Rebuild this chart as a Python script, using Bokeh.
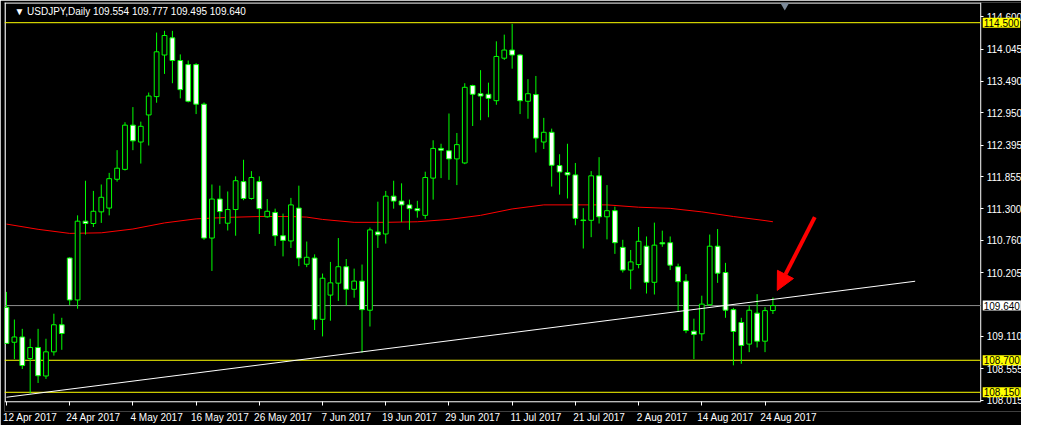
from bokeh.plotting import figure
from bokeh.models import (ColumnDataSource, Label, Arrow, NormalHead,
                          LinearAxis, FixedTicker, Range1d)
from bokeh.embed import file_html
from bokeh.resources import INLINE

# ---------------- data ----------------
bar_index = list(range(98))
opens = [109.61, 109.01, 109.10, 108.73, 108.92, 108.43, 108.845, 109.31, 110.457, 109.736,
         111.09, 111.05, 111.25, 111.315, 111.81, 111.98, 112.74, 112.45, 112.915, 113.23,
         113.945, 114.24, 113.85, 113.78, 113.78, 113.10, 110.80, 111.47, 111.055, 111.29,
         111.77, 111.48, 111.77, 111.165, 111.24, 110.84, 110.75, 111.315, 110.35, 110.457,
         109.404, 109.82, 110.025, 110.307, 109.92, 110.06, 109.56, 110.905, 110.87, 111.52,
         111.435, 111.37, 111.305, 111.19, 111.83, 112.34, 112.30, 112.16, 112.09, 113.42,
         113.28, 113.27, 113.16, 113.89, 114.03, 113.945, 113.15, 113.265, 112.45, 112.617,
         112.045, 111.925, 111.885, 111.11, 111.105, 111.869, 111.165, 111.27, 110.64, 110.25,
         110.345, 110.66, 110.04, 110.72, 110.72, 110.307, 110.06, 109.20, 109.155, 109.653,
         110.66, 110.208, 109.57, 109.349, 108.978, 109.51, 109.028, 109.554]
highs = [109.875, 109.40, 109.24, 109.07, 109.24, 109.07, 109.50, 109.43, 110.47, 111.19,
         111.785, 111.61, 111.72, 111.92, 112.31, 112.79, 113.05, 112.80, 113.30, 114.33,
         114.36, 114.36, 113.955, 113.85, 113.805, 113.13, 111.72, 111.70, 111.60, 111.86,
         112.145, 111.95, 111.86, 111.47, 111.305, 111.22, 111.49, 111.70, 110.74, 110.52,
         110.19, 110.39, 110.80, 110.44, 110.275, 110.345, 110.98, 111.425, 111.61, 111.785,
         111.74, 111.46, 111.44, 111.94, 112.48, 112.42, 112.94, 112.605, 113.46, 113.435,
         113.685, 113.47, 114.18, 114.295, 114.48, 113.96, 113.53, 113.585, 112.865, 112.68,
         112.24, 112.42, 112.09, 111.314, 111.95, 112.19, 111.71, 111.34, 110.77, 110.595,
         110.99, 110.827, 111.065, 110.927, 110.827, 110.36, 110.18, 109.415, 109.81, 110.86,
         110.955, 110.374, 109.60, 109.43, 109.643, 109.836, 109.614, 109.777]
lows = [108.99, 108.72, 108.55, 108.13, 108.31, 108.38, 108.78, 108.88, 109.65, 109.586,
        110.86, 110.99, 111.06, 111.19, 111.77, 111.96, 112.31, 112.08, 112.39, 113.125,
        113.62, 113.46, 113.20, 113.13, 112.93, 110.77, 110.235, 111.04, 110.93, 110.84,
        111.45, 111.46, 110.87, 111.15, 110.665, 110.485, 110.63, 110.317, 110.30, 109.22,
        109.11, 109.38, 109.72, 109.64, 109.775, 108.83, 109.28, 110.63, 110.705, 111.305,
        111.077, 110.94, 111.15, 111.13, 111.46, 111.83, 111.80, 111.71, 112.07, 112.725,
        112.825, 112.875, 113.09, 113.86, 113.71, 112.93, 112.85, 112.27, 112.33, 111.685,
        111.546, 111.48, 111.02, 110.62, 110.815, 111.05, 110.777, 110.528, 110.208, 109.92,
        110.28, 109.847, 109.83, 110.65, 110.25, 109.543, 109.166, 108.72, 109.033, 109.64,
        110.03, 109.43, 108.613, 108.64, 108.84, 108.92, 108.84, 109.495]
closes = [108.99, 109.10, 108.61, 108.92, 108.435, 108.845, 109.31, 109.16, 109.736, 111.09,
          111.05, 111.26, 111.50, 111.82, 112.00, 112.74, 112.47, 112.72, 113.24, 114.00,
          114.28, 113.85, 113.35, 113.15, 113.10, 110.80, 111.47, 111.255, 111.29, 111.785,
          111.48, 111.84, 111.305, 111.26, 110.84, 110.76, 111.37, 110.457, 110.47, 109.404,
          110.11, 110.03, 110.307, 109.92, 110.06, 109.57, 110.94, 110.855, 111.52, 111.435,
          111.37, 111.305, 111.27, 111.84, 112.34, 112.31, 112.16, 112.405, 113.39, 113.27,
          113.24, 113.20, 113.92, 114.03, 113.945, 113.16, 113.28, 112.517, 112.617, 112.05,
          111.935, 111.885, 111.138, 111.10, 111.869, 111.165, 111.27, 110.72, 110.25, 110.39,
          110.744, 110.04, 110.678, 110.70, 110.334, 110.05, 109.211, 109.145, 109.665, 110.66,
          110.196, 109.56, 109.195, 108.955, 109.56, 109.028, 109.553, 109.640]

date_tick_bars = [0, 8, 16, 24, 32, 40, 48, 56, 64, 72, 80, 88, 96]
date_tick_labels = ["12 Apr 2017", "24 Apr 2017", "4 May 2017", "16 May 2017", "26 May 2017",
                    "7 Jun 2017", "19 Jun 2017", "29 Jun 2017", "11 Jul 2017", "21 Jul 2017",
                    "2 Aug 2017", "14 Aug 2017", "24 Aug 2017"]

price_ticks = [114.600, 114.045, 113.490, 112.950, 112.395, 111.855, 111.300,
               110.760, 110.205, 109.110, 108.555, 108.015]
price_tick_labels = ["114.600", "114.045", "113.490", "112.950", "112.395", "111.855", "111.300",
                     "110.760", "110.205", "109.110", "108.555", "108.015"]

ma_bars = [0, 4, 8, 12, 16, 20, 24, 28, 32, 36, 38, 40, 44, 48, 52, 56, 60, 64, 68,
           72, 76, 80, 84, 88, 92, 96, 97]
ma_values = [111.04, 110.95, 110.88, 110.89, 110.955, 111.06, 111.13, 111.155, 111.17, 111.17,
             111.16, 111.12, 111.07, 111.07, 111.08, 111.12, 111.19, 111.30, 111.37,
             111.37, 111.37, 111.33, 111.31, 111.25, 111.17, 111.10, 111.08]

trend_bars = [0, 115]
trend_prices = [108.065, 110.058]

level_prices = [114.500, 108.700, 108.150]
level_labels = ["114.500", "108.700", "108.150"]
bid_price = 109.640
bid_label = "109.640"

arrow_bars = [102.3, 97.55]
arrow_prices = [111.16, 109.90]

shift_marker_bar = [98.5]
shift_marker_price = [114.80]

title_text = "\u25BC USDJPY,Daily 109.554 109.777 109.495 109.640"

# ---------------- figure ----------------
X0 = -0.25          # left edge of the chart frame
X_AXIS = 123.3      # where the price scale sits (right edge of the chart area)
X_END = 128.46      # room for the price labels
Y_LINE_LO, Y_LINE_HI = 107.987, 114.847   # white chart border (bottom/top)
Y_FRAME_LO = 107.82                       # room under the border for ticks / last label
FONT = "Liberation Sans"
GREEN = "#00FF00"

p = figure(width=1021, height=425, x_range=Range1d(X0, X_END),
           y_range=Range1d(Y_FRAME_LO, Y_LINE_HI),
           output_backend="svg", toolbar_location=None, y_axis_location="right",
           background_fill_color="black", border_fill_color="black",
           min_border_left=4, min_border_top=2, min_border_right=0, min_border_bottom=0)
p.grid.visible = False
p.outline_line_color = None

# bottom axis: tick marks only, pinned to the chart's bottom border
xa = p.xaxis[0]
xa.fixed_location = Y_LINE_LO
xa.ticker = FixedTicker(ticks=date_tick_bars)
xa.major_label_overrides = {b: "" for b in date_tick_bars}
xa.major_label_text_font_size = "0px"
xa.major_label_standoff = 0
xa.major_tick_out = 4
xa.major_tick_in = 0
xa.major_tick_line_color = "white"
xa.minor_tick_line_color = None
xa.axis_line_color = None

# bottom axis: date labels starting at the tick
lab_ticks = [b + 3 for b in date_tick_bars]
xa2 = LinearAxis(ticker=FixedTicker(ticks=lab_ticks),
                 major_label_overrides={t: l for t, l in zip(lab_ticks, date_tick_labels)})
xa2.major_tick_out = 0
xa2.major_tick_in = 0
xa2.major_tick_line_color = None
xa2.minor_tick_line_color = None
xa2.axis_line_color = None
xa2.major_label_standoff = 0
xa2.major_label_text_color = "white"
xa2.major_label_text_font = FONT
xa2.major_label_text_font_size = "10px"
p.add_layout(xa2, "below")

# right price axis, pinned at the right edge of the chart area
ya = p.yaxis[0]
ya.fixed_location = X_AXIS
ya.ticker = FixedTicker(ticks=price_ticks)
ya.major_label_overrides = {t: l for t, l in zip(price_ticks, price_tick_labels)}
ya.major_tick_out = 3
ya.major_tick_in = 0
ya.major_tick_line_color = "white"
ya.minor_tick_line_color = None
ya.axis_line_color = None
ya.major_label_standoff = 3
ya.major_label_text_color = "white"
ya.major_label_text_font = FONT
ya.major_label_text_font_size = "10px"

# chart border (left, right, top, bottom white lines)
p.segment(x0=[X0 + 0.1, X_AXIS, X0, X0],
          y0=[Y_LINE_LO, Y_LINE_LO, Y_LINE_HI - 0.01, Y_LINE_LO],
          x1=[X0 + 0.1, X_AXIS, X_AXIS, X_AXIS],
          y1=[Y_LINE_HI, Y_LINE_HI, Y_LINE_HI - 0.01, Y_LINE_LO],
          line_color="white", line_width=1)

# moving average
p.line(ma_bars, ma_values, line_color="#FF0000", line_width=1)

# horizontal levels
p.segment(x0=[X0] * len(level_prices), y0=level_prices,
          x1=[X_AXIS] * len(level_prices), y1=level_prices,
          line_color="#FFFF00", line_width=1)
p.segment(x0=[X0], y0=[bid_price], x1=[X_AXIS], y1=[bid_price],
          line_color="#8C8C8C", line_width=1)

# candles
tops = [max(o, c) for o, c in zip(opens, closes)]
bots = [min(o, c) for o, c in zip(opens, closes)]
fills = ["black" if c > o else "white" for o, c in zip(opens, closes)]
src = ColumnDataSource(dict(x=bar_index, high=highs, low=lows, top=tops, bottom=bots, fill=fills))
p.segment(x0="x", y0="low", x1="x", y1="high", source=src, line_color=GREEN, line_width=1)
p.vbar(x="x", width=0.6, top="top", bottom="bottom", source=src,
       fill_color="fill", line_color=GREEN, line_width=1)

# trend line
p.line(trend_bars, trend_prices, line_color="white", line_width=1)

# chart shift marker
p.scatter(shift_marker_bar, shift_marker_price, marker="inverted_triangle", size=9,
          fill_color="#7C8A99", line_color=None)

# red arrow
p.add_layout(Arrow(end=NormalHead(size=18, fill_color="#FF0000", line_color="#FF0000"),
                   x_start=arrow_bars[0], y_start=arrow_prices[0],
                   x_end=arrow_bars[1], y_end=arrow_prices[1],
                   line_color="#FF0000", line_width=4))

# title
p.add_layout(Label(x=1.0, y=114.69, text=title_text, text_color="white",
                   text_font=FONT, text_font_size="10px", text_baseline="middle"))

# highlighted price labels on the scale
for lv, txt in zip(level_prices, level_labels):
    p.add_layout(Label(x=X_AXIS, y=lv, x_offset=2, text=txt, text_color="black",
                       text_font=FONT, text_font_size="10px", text_baseline="middle",
                       background_fill_color="#FFFF00", padding=1))
p.add_layout(Label(x=X_AXIS, y=bid_price, x_offset=2, text=bid_label, text_color="black",
                   text_font=FONT, text_font_size="10px", text_baseline="middle",
                   background_fill_color="white", padding=1))

open("out.html", "w").write(file_html(p, INLINE))
